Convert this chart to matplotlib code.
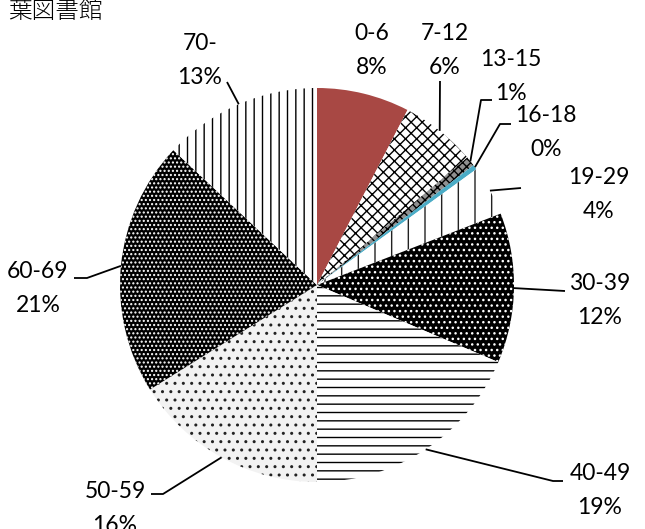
import numpy as np
import matplotlib
matplotlib.use("Agg")
import matplotlib.pyplot as plt

plt.rcParams['font.family'] = ['Lato', 'DejaVu Sans']
plt.rcParams['hatch.linewidth'] = 1.0

# age groups and their share of users (%)
ages = ['0-6', '7-12', '13-15', '16-18', '19-29', '30-39', '40-49', '50-59', '60-69', '70-']
share = [7.6, 6.2, 0.8, 0.4, 4.1, 12.3, 18.6, 16.1, 20.9, 13.0]
title = '葉図書館'

# fill style per slice: (face, hatch, hatch colour)
styles = [
    ('#a84844', None, '#a84844'),
    ('white', 'xxx', 'black'),
    ('#909090', 'xxxx', 'black'),
    ('#4bacc6', None, '#4bacc6'),
    ('white', '|', '#222222'),
    ('black', '...', 'white'),
    ('white', '--', 'black'),
    ('#f2f2f2', '..', '#222222'),
    ('black', '....', 'white'),
    ('white', '||', 'black'),
]

# label positions and leader line bends, in pixels from the top-left corner
H = 529
label_pos = [(372, 33), (445, 33), (511, 59), (546, 116), (599, 178),
             (600, 283), (600, 473), (115, 492), (38, 271), (200, 43)]
leaders = [None, [(440, 81)], [(481, 100), (492, 100)], [(500, 124), (511, 124)],
           [(521, 188)], [(565, 291)], [(553, 481), (563, 481)],
           [(163, 494), (151, 494)], [(87, 278), (74, 278)], [(227, 82)]]

cx, cy, r = 317, H - 285, 197

fig = plt.figure(figsize=(6.45, 5.29), dpi=100)
ax = fig.add_axes([0, 0, 1, 1])

wedges, _ = ax.pie(share, startangle=90, counterclock=False,
                   center=(cx, cy), radius=r,
                   wedgeprops=dict(linewidth=0))
for w, (face, hatch, hc) in zip(wedges, styles):
    w.set_facecolor(face)
    w.set_edgecolor(hc)
    w.set_linewidth(0)
    if hatch:
        w.set_hatch(hatch)

for w, name, v, (lx, ly), pts in zip(wedges, ages, share, label_pos, leaders):
    ax.text(lx, H - ly, name, ha='center', va='center', fontsize=16.5, color='black')
    ax.text(lx, H - ly - 34, f'{round(v)}%', ha='center', va='center',
            fontsize=16.5, color='black')
    if pts:
        mid = np.deg2rad((w.theta1 + w.theta2) / 2)
        xs = [cx + r * np.cos(mid)] + [p[0] for p in pts]
        ys = [cy + r * np.sin(mid)] + [H - p[1] for p in pts]
        ax.plot(xs, ys, color='black', lw=1.3, solid_capstyle='butt')

ax.text(103, H - 11, title, ha='right', va='center', fontsize=17,
        fontweight='light', family=['Noto Sans CJK JP', 'DejaVu Sans'])

ax.set_xlim(0, 645)
ax.set_ylim(0, H)
ax.axis('off')

fig.savefig('out.png', dpi=100)
